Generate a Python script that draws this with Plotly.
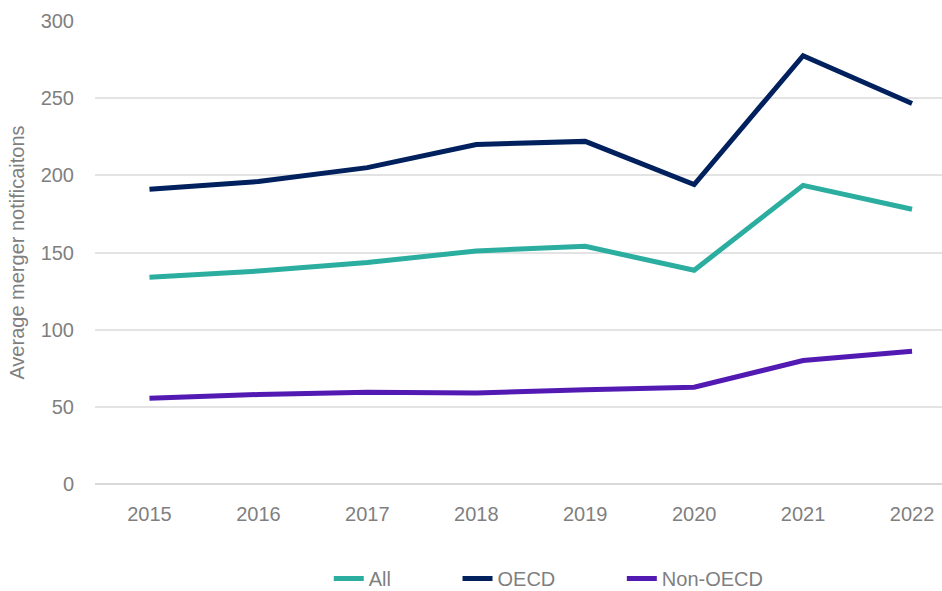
import plotly.graph_objects as go

years = ["2015", "2016", "2017", "2018", "2019", "2020", "2021", "2022"]
all_vals = [134, 138, 143.5, 151, 154, 138.5, 193.5, 178]
oecd_vals = [191, 196, 205, 220, 222, 194, 277.5, 246.5]
non_oecd_vals = [55.5, 58, 59.5, 59, 61, 62.7, 80, 86]

series = [
    ("All", all_vals, "#2BAE9F", "legend", 0.276),
    ("OECD", oecd_vals, "#00215E", "legend2", 0.428),
    ("Non-OECD", non_oecd_vals, "#531AB3", "legend3", 0.622),
]

font_family = "Liberation Sans Narrow, Arial Narrow, Liberation Sans, Arial, sans-serif"
gray = "#7f7f7f"

fig = go.Figure()
legend_layout = {}
for name, vals, color, leg, lx in series:
    fig.add_trace(go.Scatter(
        x=years, y=vals, name=name, mode="lines", legend=leg,
        line=dict(color=color, width=5, shape="linear"),
    ))
    legend_layout[leg] = dict(
        orientation="h", x=lx, xanchor="left", y=-0.204, yanchor="middle",
        font=dict(family=font_family, size=20, color=gray),
        bgcolor="rgba(0,0,0,0)", borderwidth=0,
    )

fig.update_layout(
    width=942, height=591,
    margin=dict(l=95, r=0, t=21, b=107, autoexpand=False),
    paper_bgcolor="white", plot_bgcolor="white",
    font=dict(family=font_family, size=20, color=gray),
    showlegend=True,
    xaxis=dict(
        type="category", range=[-0.5, 7.275],
        showgrid=False, zeroline=False, showline=False,
        ticks="", ticklabelstandoff=16,
        tickfont=dict(family=font_family, size=20, color=gray),
    ),
    yaxis=dict(
        range=[0, 300], dtick=50, tick0=0,
        showgrid=True, gridcolor="#e3e3e3", gridwidth=1.5,
        zeroline=True, zerolinecolor="#d9d9d9", zerolinewidth=1.5,
        showline=False, ticks="", ticklabelstandoff=20,
        tickfont=dict(family=font_family, size=20, color=gray),
        title=dict(text="Average merger notificaitons", standoff=10,
                   font=dict(family=font_family, size=20, color=gray)),
    ),
    **legend_layout,
)

fig.write_html("out.html")
